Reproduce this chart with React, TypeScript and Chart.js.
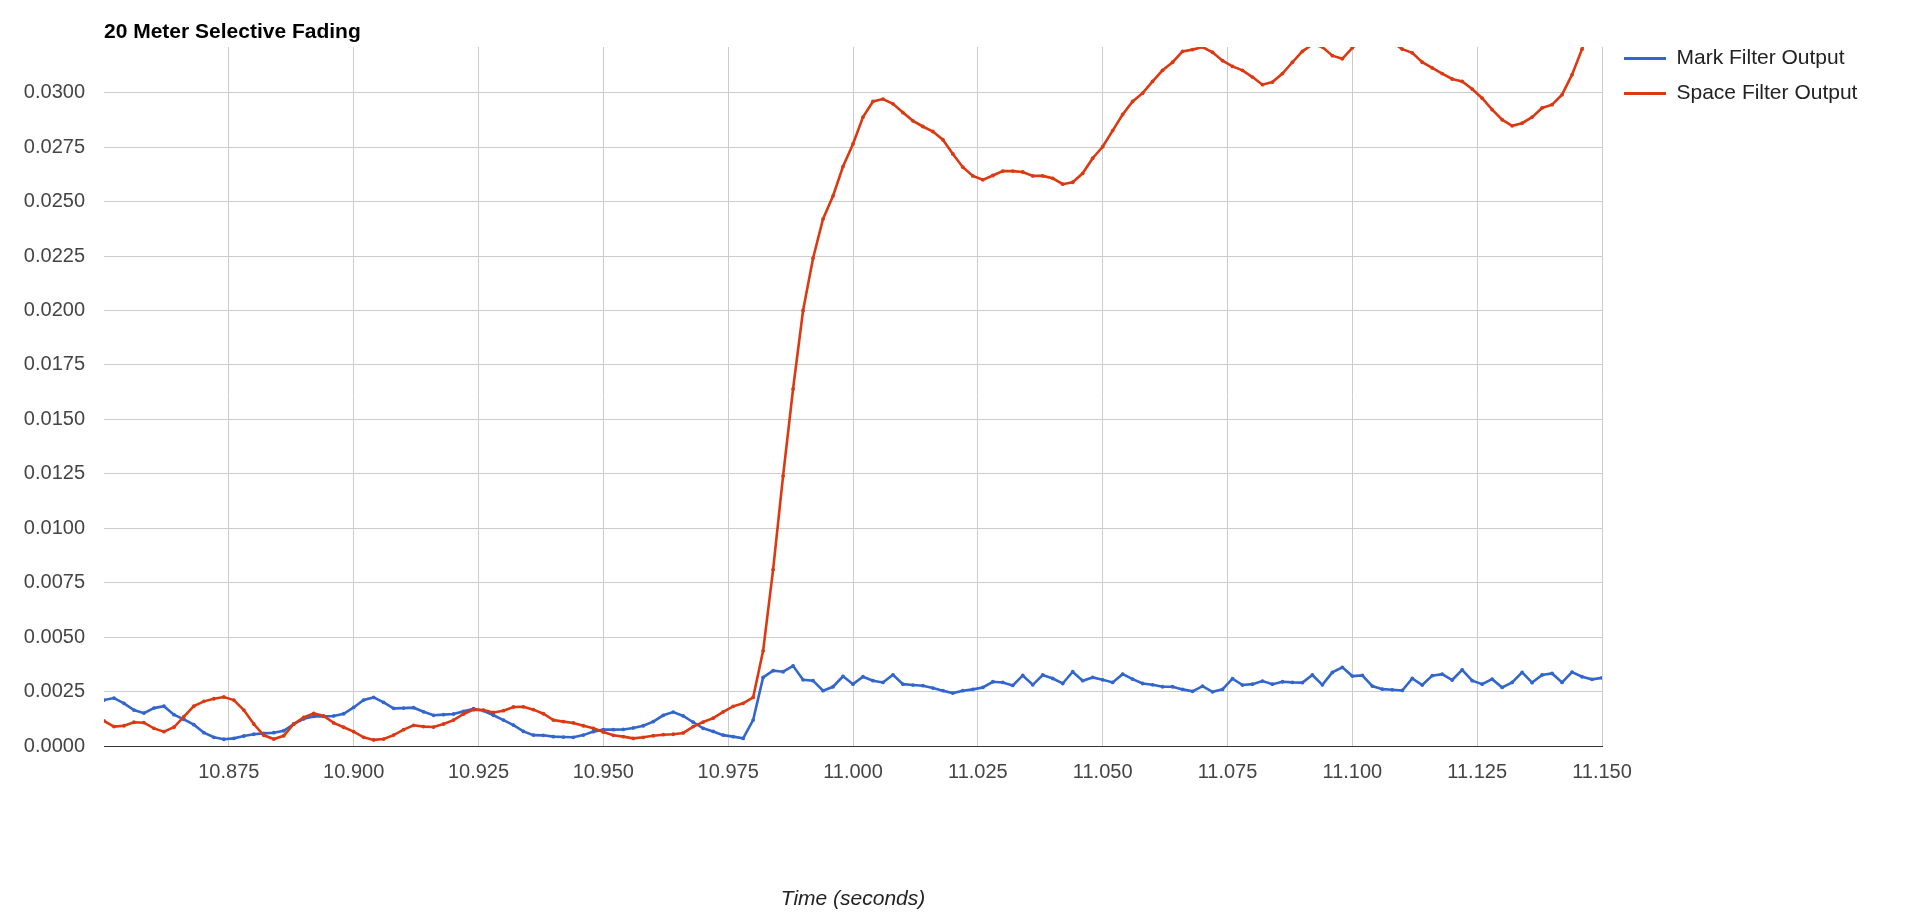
import React, { useEffect, useRef } from 'react';
import { Chart, registerables } from 'chart.js';

Chart.register(...registerables);

const chartTitle = '20 Meter Selective Fading';
const xAxisTitle = 'Time (seconds)';
const seriesLabels = ['Mark Filter Output', 'Space Filter Output'];

const times = [
  10.850, 10.852, 10.854, 10.856, 10.858, 10.860, 10.862, 10.864, 10.866, 10.868,
  10.870, 10.872, 10.874, 10.876, 10.878, 10.880, 10.882, 10.884, 10.886, 10.888,
  10.890, 10.892, 10.894, 10.896, 10.898, 10.900, 10.902, 10.904, 10.906, 10.908,
  10.910, 10.912, 10.914, 10.916, 10.918, 10.920, 10.922, 10.924, 10.926, 10.928,
  10.930, 10.932, 10.934, 10.936, 10.938, 10.940, 10.942, 10.944, 10.946, 10.948,
  10.950, 10.952, 10.954, 10.956, 10.958, 10.960, 10.962, 10.964, 10.966, 10.968,
  10.970, 10.972, 10.974, 10.976, 10.978, 10.980, 10.982, 10.984, 10.986, 10.988,
  10.990, 10.992, 10.994, 10.996, 10.998, 11.000, 11.002, 11.004, 11.006, 11.008,
  11.010, 11.012, 11.014, 11.016, 11.018, 11.020, 11.022, 11.024, 11.026, 11.028,
  11.030, 11.032, 11.034, 11.036, 11.038, 11.040, 11.042, 11.044, 11.046, 11.048,
  11.050, 11.052, 11.054, 11.056, 11.058, 11.060, 11.062, 11.064, 11.066, 11.068,
  11.070, 11.072, 11.074, 11.076, 11.078, 11.080, 11.082, 11.084, 11.086, 11.088,
  11.090, 11.092, 11.094, 11.096, 11.098, 11.100, 11.102, 11.104, 11.106, 11.108,
  11.110, 11.112, 11.114, 11.116, 11.118, 11.120, 11.122, 11.124, 11.126, 11.128,
  11.130, 11.132, 11.134, 11.136, 11.138, 11.140, 11.142, 11.144, 11.146, 11.148,
  11.150,
];

const markFilterOutput = [
  0.00211, 0.00220, 0.00196, 0.00165, 0.00151, 0.00174, 0.00183, 0.00144, 0.00122, 0.00098,
  0.00061, 0.00040, 0.00031, 0.00035, 0.00046, 0.00054, 0.00058, 0.00061, 0.00070, 0.00101,
  0.00125, 0.00136, 0.00136, 0.00138, 0.00148, 0.00177, 0.00211, 0.00223, 0.00200, 0.00173,
  0.00174, 0.00176, 0.00157, 0.00141, 0.00144, 0.00147, 0.00159, 0.00171, 0.00162, 0.00141,
  0.00119, 0.00096, 0.00067, 0.00050, 0.00049, 0.00043, 0.00041, 0.00040, 0.00050, 0.00066,
  0.00075, 0.00075, 0.00076, 0.00083, 0.00093, 0.00112, 0.00141, 0.00156, 0.00138, 0.00109,
  0.00081, 0.00067, 0.00050, 0.00043, 0.00035, 0.00119, 0.00315, 0.00346, 0.00341, 0.00368,
  0.00304, 0.00300, 0.00254, 0.00272, 0.00320, 0.00284, 0.00318, 0.00300, 0.00292, 0.00327,
  0.00284, 0.00280, 0.00277, 0.00266, 0.00254, 0.00243, 0.00254, 0.00260, 0.00269, 0.00295,
  0.00292, 0.00278, 0.00324, 0.00281, 0.00326, 0.00310, 0.00287, 0.00341, 0.00300, 0.00315,
  0.00304, 0.00292, 0.00330, 0.00307, 0.00287, 0.00281, 0.00272, 0.00272, 0.00260, 0.00251,
  0.00275, 0.00249, 0.00260, 0.00309, 0.00280, 0.00284, 0.00298, 0.00284, 0.00295, 0.00292,
  0.00291, 0.00326, 0.00281, 0.00338, 0.00361, 0.00321, 0.00324, 0.00275, 0.00261, 0.00258,
  0.00255, 0.00310, 0.00280, 0.00323, 0.00330, 0.00303, 0.00350, 0.00300, 0.00284, 0.00307,
  0.00269, 0.00292, 0.00338, 0.00291, 0.00326, 0.00333, 0.00292, 0.00339, 0.00318, 0.00306,
  0.00313,
];

const spaceFilterOutput = [
  0.00115, 0.00089, 0.00093, 0.00109, 0.00107, 0.00081, 0.00066, 0.00086, 0.00135, 0.00183,
  0.00205, 0.00217, 0.00225, 0.00211, 0.00165, 0.00101, 0.00049, 0.00032, 0.00047, 0.00101,
  0.00131, 0.00150, 0.00138, 0.00106, 0.00086, 0.00066, 0.00040, 0.00028, 0.00032, 0.00050,
  0.00075, 0.00095, 0.00089, 0.00087, 0.00101, 0.00119, 0.00147, 0.00167, 0.00165, 0.00154,
  0.00162, 0.00179, 0.00180, 0.00167, 0.00148, 0.00119, 0.00112, 0.00106, 0.00093, 0.00081,
  0.00064, 0.00049, 0.00043, 0.00035, 0.00040, 0.00047, 0.00052, 0.00054, 0.00060, 0.00089,
  0.00110, 0.00128, 0.00157, 0.00182, 0.00196, 0.00223, 0.00437, 0.00810, 0.01240, 0.01640,
  0.02000, 0.02240, 0.02420, 0.02526, 0.02661, 0.02765, 0.02888, 0.02960, 0.02971, 0.02949,
  0.02909, 0.02871, 0.02845, 0.02822, 0.02784, 0.02719, 0.02658, 0.02618, 0.02600, 0.02620,
  0.02640, 0.02640, 0.02636, 0.02618, 0.02618, 0.02607, 0.02580, 0.02589, 0.02630, 0.02699,
  0.02752, 0.02826, 0.02900, 0.02960, 0.02998, 0.03052, 0.03103, 0.03140, 0.03190, 0.03198,
  0.03210, 0.03186, 0.03147, 0.03121, 0.03103, 0.03072, 0.03037, 0.03049, 0.03088, 0.03140,
  0.03190, 0.03222, 0.03210, 0.03170, 0.03156, 0.03206, 0.03245, 0.03270, 0.03260, 0.03232,
  0.03200, 0.03183, 0.03140, 0.03114, 0.03088, 0.03063, 0.03052, 0.03017, 0.02975, 0.02922,
  0.02876, 0.02848, 0.02860, 0.02888, 0.02930, 0.02945, 0.02991, 0.03083, 0.03200, 0.03350,
  0.03520,
];

const xTickValues = [10.875, 10.9, 10.925, 10.95, 10.975, 11.0, 11.025, 11.05, 11.075, 11.1, 11.125, 11.15];
const yTickValues = [0, 0.0025, 0.005, 0.0075, 0.01, 0.0125, 0.015, 0.0175, 0.02, 0.0225, 0.025, 0.0275, 0.03];
const xRange = [10.85, 11.15];
const yRange = [0, 0.0321];

const FONT = "'Liberation Sans', Arial, Helvetica, sans-serif";
const BLUE = '#3366cc';
const RED = '#dc3912';
const CANVAS_W = 1883;
const CANVAS_H = 1016;

const legendNudge = {
  id: 'legendNudge',
  afterLayout(chart: any) {
    const l = chart.legend;
    if (!l) return;
    l.left += 8;
    l.right += 60;
    l.top -= 13;
    l.bottom -= 13;
  },
};

export default function App() {
  const canvasRef = useRef<HTMLCanvasElement | null>(null);

  useEffect(() => {
    if (!canvasRef.current) return;
    Chart.defaults.font.family = FONT;
    const toPoints = (ys: number[]) => times.map((t, i) => ({ x: t, y: ys[i] }));

    const chart = new Chart(canvasRef.current, {
      type: 'line',
      data: {
        datasets: [
          {
            label: seriesLabels[0],
            data: toPoints(markFilterOutput),
            borderColor: BLUE,
            backgroundColor: BLUE,
            borderWidth: 2.6,
            pointRadius: 1.9,
            pointBorderWidth: 0,
            pointBackgroundColor: BLUE,
            tension: 0,
            order: 1,
          },
          {
            label: seriesLabels[1],
            data: toPoints(spaceFilterOutput),
            borderColor: RED,
            backgroundColor: RED,
            borderWidth: 2.6,
            pointRadius: 1.9,
            pointBorderWidth: 0,
            pointBackgroundColor: RED,
            tension: 0,
            order: 0,
          },
        ],
      },
      options: {
        responsive: false,
        devicePixelRatio: 1,
        animation: false,
        events: [],
        layout: { padding: { left: 0, top: 0, right: 49, bottom: 112.5 } },
        plugins: {
          title: {
            display: true,
            text: chartTitle,
            align: 'start',
            fullSize: false,
            color: '#000000',
            font: { family: FONT, size: 21, weight: 'bold', lineHeight: 1.2 },
            padding: { top: 11.3, bottom: 2.5 },
          },
          legend: {
            display: true,
            position: 'right',
            align: 'start',
            fullSize: false,
            maxWidth: 240,
            labels: {
              color: '#222222',
              font: { family: FONT, size: 21 },
              usePointStyle: true,
              pointStyle: 'line',
              pointStyleWidth: 42,
              padding: 14,
              sort: (a: any, b: any) => a.datasetIndex - b.datasetIndex,
              generateLabels: (c: any) => {
                const items = (Chart.defaults.plugins.legend.labels as any).generateLabels(c);
                return items.map((it: any) => ({
                  ...it,
                  lineWidth: 3,
                  strokeStyle: c.data.datasets[it.datasetIndex].borderColor,
                  pointStyle: 'line',
                }));
              },
            },
          },
          tooltip: { enabled: false },
        },
        scales: {
          x: {
            type: 'linear',
            min: xRange[0],
            max: xRange[1],
            afterBuildTicks: (s: any) => {
              s.ticks = xTickValues.map((value) => ({ value }));
            },
            afterFit: (s: any) => {
              s.height = 165.5;
            },
            grid: { color: '#cccccc', lineWidth: 1, drawTicks: false },
            border: { display: true, color: '#333333', width: 1 },
            ticks: {
              padding: 14,
              color: '#444444',
              font: { family: FONT, size: 20 },
              autoSkip: false,
              maxRotation: 0,
              minRotation: 0,
              callback: (v: any) => Number(v).toFixed(3),
            },
            title: {
              display: true,
              text: xAxisTitle,
              color: '#222222',
              font: { family: FONT, size: 21, style: 'italic', lineHeight: 1.2 },
              padding: { top: 0, bottom: 0 },
            },
          },
          y: {
            type: 'linear',
            min: yRange[0],
            max: yRange[1],
            afterBuildTicks: (s: any) => {
              s.ticks = yTickValues.map((value) => ({ value }));
            },
            afterFit: (s: any) => {
              s.width = 96;
            },
            grid: {
              color: (ctx: any) => (ctx.tick && ctx.tick.value === 0 ? '#333333' : '#cccccc'),
              lineWidth: 1,
              drawTicks: false,
            },
            border: { display: false },
            ticks: {
              padding: 19,
              color: '#444444',
              font: { family: FONT, size: 20 },
              autoSkip: false,
              callback: (v: any) => Number(v).toFixed(4),
            },
          },
        },
      },
      plugins: [legendNudge],
    } as any);

    return () => {
      chart.destroy();
    };
  }, []);

  return (
    <div style={{ width: CANVAS_W, height: CANVAS_H, background: '#ffffff' }}>
      <canvas ref={canvasRef} width={CANVAS_W} height={CANVAS_H} style={{ display: 'block' }} />
    </div>
  );
}
